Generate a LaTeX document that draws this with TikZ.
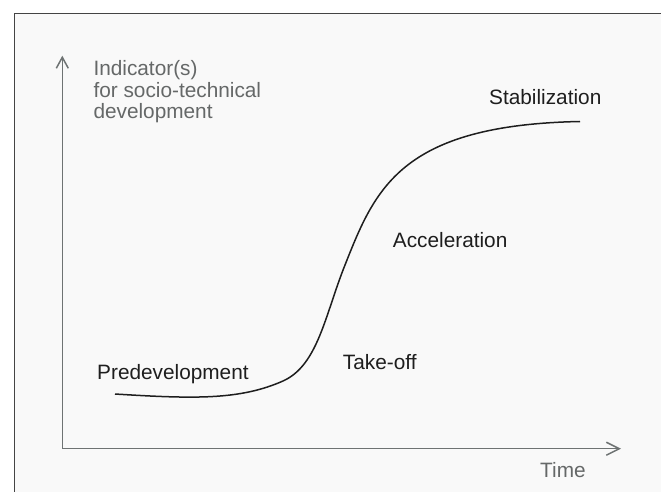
\documentclass[tikz,border=0pt]{standalone}
\usepackage{fontspec}
\setmainfont{Liberation Sans}
\usetikzlibrary{arrows.meta}
\definecolor{paper}{HTML}{F9F9F9}
\definecolor{rim}{HTML}{444444}
\definecolor{ax}{HTML}{6E7373}
\definecolor{ink}{HTML}{1E1E1E}
\definecolor{soft}{HTML}{656868}

\begin{document}
\begin{tikzpicture}[x=1pt,y=-1pt,
	phase/.style={inner sep=0pt,anchor=base west,text=ink,font=\fontsize{20.8}{21.3}\selectfont},
	axislabel/.style={phase,text=soft,align=left},
	axisline/.style={draw=ax,line width=1.5pt}]
	\useasboundingbox (0,0) rectangle (661,492);
	% sheet
	\fill[white] (0,0) rectangle (661,492);
	\fill[paper] (14.5,13.5) rectangle (661,492);
	\draw[rim,line width=1.3pt] (14.5,492) |- (661,13.5);
	% axes
	\coordinate (ytip) at (62.3,55.7);
	\coordinate (origin) at (62.3,448.7);
	\coordinate (xtip) at (621,448.7);
	\draw[axisline,{Straight Barb[length=11pt,width=12pt]}-{Straight Barb[length=13pt,width=13pt]}]
		(ytip) -- (origin) -- (xtip);
	% base of a multi-line node sits on its last line
	\node[axislabel] (yname) at (93.3,118.3) {Indicator(s)\\for socio-technical\\development};
	\node[axislabel] (xname) at (540,477) {Time};
	% s-curve
	\coordinate (knee) at (283,381);
	\coordinate (turn) at (345,265);
	\draw[ink,line width=1.5pt] (115,394) .. controls (195,399) and (240,400) .. (knee)
		.. controls (318,365.3) and (325,315) .. (turn)
		.. controls (375,189.4) and (400,125) .. (580,121.5);
	% phases
	\node[phase] (predev) at (97,379.3) {Predevelopment};
	\node[phase] (takeoff) at (342.7,369.3) {Take-off};
	\node[phase] (accel) at (392.7,247.3) {Acceleration};
	\node[phase] (stab) at (489,105) {Stabilization};
\end{tikzpicture}
\end{document}
